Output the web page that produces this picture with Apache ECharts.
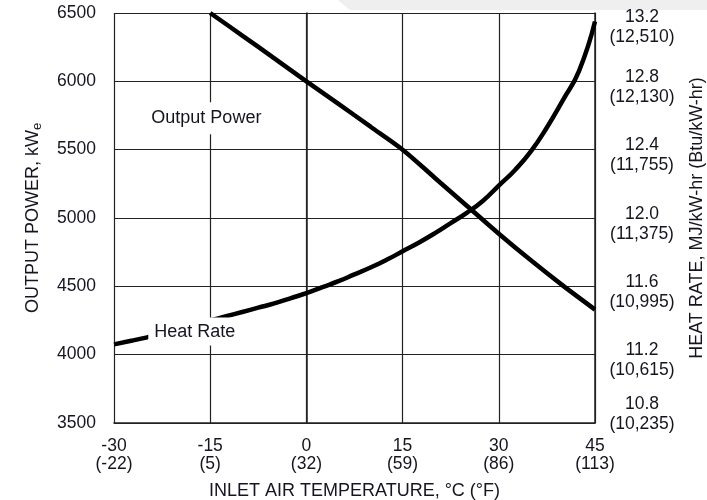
<!DOCTYPE html>
<html>
<head>
<meta charset="utf-8">
<script src="https://cdn.jsdelivr.net/npm/echarts@6/dist/echarts.min.js"></script>
<style>
html,body{margin:0;padding:0;background:#fff;}
#chart{width:707px;height:500px;}
</style>
</head>
<body>
<div id="chart"></div>
<script>
// ---- data ----
const xTicksC = ['-30', '-15', '0', '15', '30', '45'];
const xTicksF = ['(-22)', '(5)', '(32)', '(59)', '(86)', '(113)'];
const rightTicksMJ = ['10.8', '11.2', '11.6', '12.0', '12.4', '12.8', '13.2'];
const rightTicksBtu = ['(10,235)', '(10,615)', '(10,995)', '(11,375)', '(11,755)', '(12,130)', '(12,510)'];

const powerTemp = [-15, -10, -5, 0, 5, 10, 15, 20, 25, 30, 35, 40, 45];
const powerKW   = [6500, 6335, 6168, 6000, 5835, 5668, 5500, 5295, 5090, 4885, 4690, 4505, 4330];

const heatTemp = [-30, -27.5, -25, -22.5, -20, -17.5, -15, -12.5, -10, -7.5, -5, -2.5, 0, 2.5, 5, 7.5, 10, 12.5, 15, 17.5, 20, 22.5, 25, 27.5, 30, 32.5, 35, 37.5, 40, 42.5, 45];
const heatMJ   = [11.26, 11.28, 11.30, 11.325, 11.35, 11.375, 11.40, 11.425, 11.45, 11.475, 11.50, 11.53, 11.56, 11.595, 11.63, 11.67, 11.71, 11.755, 11.805, 11.855, 11.91, 11.97, 12.03, 12.10, 12.19, 12.28, 12.39, 12.53, 12.69, 12.86, 13.15];

const powerLabelPos = [-15.6, 5730];
const heatLabelPos = [-17.4, 11.335];

// ---- chart ----
const FONT = '"Liberation Sans", Arial, sans-serif';
const TXT = '#151520';
const GRID = '#222';
const TICK_FS = 17.5;

function pairs(xs, ys) { return xs.map((x, i) => [x, ys[i]]); }

const chart = echarts.init(document.getElementById('chart'), null, {renderer: 'canvas'});

const richTick = {
  a: {fontFamily: FONT, fontSize: TICK_FS, color: TXT, lineHeight: 20, align: 'center'},
  t: {fontFamily: FONT, fontSize: TICK_FS, lineHeight: 17},
  b: {fontFamily: FONT, fontSize: TICK_FS, lineHeight: 29}
};

chart.setOption({
  animation: false,
  backgroundColor: '#fff',
  graphic: [{
    type: 'polygon', z: -10, silent: true,
    shape: {points: [[338, 0], [707, 0], [707, 10], [350, 10]]},
    style: {fill: '#efefef'}
  }],
  grid: {left: 114, right: 112, top: 13, bottom: 77, containLabel: false, outerBoundsMode: 'none'},
  xAxis: {
    type: 'value', min: -30, max: 45, interval: 15,
    name: 'INLET AIR TEMPERATURE, °C (°F)',
    nameLocation: 'middle', nameGap: 59,
    nameTextStyle: {fontFamily: FONT, fontSize: 18, color: TXT},
    axisLine: {show: true, onZero: false, lineStyle: {color: GRID, width: 1.5}},
    axisTick: {show: false},
    splitLine: {show: true, lineStyle: {color: GRID, width: 1.2}},
    axisLabel: {
      margin: 14, fontFamily: FONT, fontSize: TICK_FS, color: TXT, lineHeight: 18,
      showMinLabel: true, showMaxLabel: true,
      formatter: function (v) {
        const i = Math.round((v + 30) / 15);
        return xTicksC[i] + '\n' + xTicksF[i];
      }
    }
  },
  yAxis: [{
    type: 'value', min: 3500, max: 6500, interval: 500, position: 'left',
    name: '{m|OUTPUT POWER, kW}{s|e}',
    nameLocation: 'middle', nameGap: 70, nameRotate: 90,
    nameTextStyle: {
      fontFamily: FONT, fontSize: 18, color: TXT,
      rich: {
        m: {fontFamily: FONT, fontSize: 18, color: TXT, lineHeight: 22},
        s: {fontFamily: FONT, fontSize: 13, color: TXT, padding: [9, 0, 0, 0]}
      }
    },
    axisLine: {show: true, lineStyle: {color: GRID, width: 1.5}},
    axisTick: {show: true, length: 3, lineStyle: {color: GRID}},
    splitLine: {show: true, lineStyle: {color: GRID, width: 1.2}},
    axisLabel: {
      margin: 18, fontFamily: FONT, fontSize: TICK_FS, color: TXT,
      showMinLabel: true, showMaxLabel: true,
      formatter: function (v) { return String(Math.round(v)); }
    }
  }, {
    type: 'value', min: 10.8, max: 13.2, interval: 0.4, position: 'right',
    name: 'HEAT RATE, MJ/kW-hr (Btu/kW-hr)',
    nameLocation: 'middle', nameGap: 93, nameRotate: 90,
    nameTextStyle: {fontFamily: FONT, fontSize: 18, color: TXT},
    axisLine: {show: true, lineStyle: {color: GRID, width: 1.5}},
    axisTick: {show: false},
    splitLine: {show: false},
    axisLabel: {
      margin: 47, align: 'center', fontFamily: FONT, fontSize: TICK_FS, color: TXT,
      lineHeight: 20, padding: [12, 0, 0, 0], rich: richTick,
      showMinLabel: true, showMaxLabel: true, hideOverlap: false,
      formatter: function (v) {
        const i = Math.round((v - 10.8) / 0.4);
        const a = '{a|' + rightTicksMJ[i] + '}\n{a|' + rightTicksBtu[i] + '}';
        if (i === rightTicksMJ.length - 1) return '{t| }\n' + a;
        if (i === 0) return a + '\n{b| }';
        return a;
      }
    }
  }],
  series: [{
    name: 'Output Power', type: 'line', yAxisIndex: 0,
    data: pairs(powerTemp, powerKW),
    showSymbol: false, smooth: 0.3,
    lineStyle: {color: '#000', width: 4.5},
    z: 3,
    markPoint: {
      silent: true, symbol: 'rect', symbolSize: 1,
      itemStyle: {color: 'rgba(0,0,0,0)'},
      label: {
        show: true, position: 'inside', formatter: 'Output Power',
        fontFamily: FONT, fontSize: 18, color: TXT,
        backgroundColor: '#fff', padding: [7, 6]
      },
      data: [{coord: powerLabelPos}]
    }
  }, {
    name: 'Heat Rate', type: 'line', yAxisIndex: 1,
    data: pairs(heatTemp, heatMJ),
    showSymbol: false, smooth: 0.5,
    lineStyle: {color: '#000', width: 4.5},
    z: 3,
    markPoint: {
      silent: true, symbol: 'rect', symbolSize: 1,
      itemStyle: {color: 'rgba(0,0,0,0)'},
      label: {
        show: true, position: 'inside', formatter: 'Heat Rate',
        fontFamily: FONT, fontSize: 18, color: TXT,
        backgroundColor: '#fff', padding: [5, 6]
      },
      data: [{coord: heatLabelPos}]
    }
  }]
});
</script>
</body>
</html>
